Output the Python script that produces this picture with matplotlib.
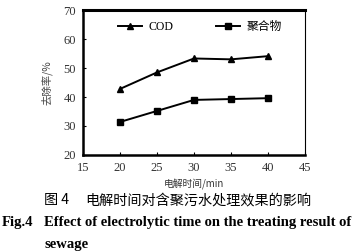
import matplotlib
matplotlib.use("Agg")
import matplotlib.pyplot as plt

# 电解时间 / min
time_min = [20, 25, 30, 35, 40]
cod_removal = [42.8, 48.5, 53.3, 53.0, 54.1]
polymer_removal = [31.4, 35.2, 39.0, 39.3, 39.6]

x_ticks = [15, 20, 25, 30, 35, 40, 45]
y_ticks = [20, 30, 40, 50, 60, 70]

serif = ['Liberation Serif', 'Noto Sans CJK SC']
cjk = ['Noto Sans CJK SC', 'DejaVu Sans']

fig = plt.figure(figsize=(3.55, 2.52), dpi=100)
ax = fig.add_axes([0.234, 0.385, 0.625, 0.575])

ax.plot(time_min, cod_removal, color='black', lw=1.4, marker='^', ms=5, label='COD')
ax.plot(time_min, polymer_removal, color='black', lw=1.4, marker='s', ms=5, label='聚合物')

ax.set_xlim(15, 45)
ax.set_ylim(20, 70)
ax.set_xticks(x_ticks)
ax.set_yticks(y_ticks)
ax.tick_params(direction='in', length=2, width=0.8, labelsize=9, pad=5)
for lab in ax.get_xticklabels() + ax.get_yticklabels():
    lab.set_family(serif)
    lab.set_color('#333333')
for side in ['left', 'bottom']:
    ax.spines[side].set_linewidth(1.8)
ax.spines['top'].set_linewidth(2.2)
ax.spines['right'].set_linewidth(0.8)

ax.set_ylabel('去除率/%', family=cjk, fontsize=7.5, color='#444444', labelpad=8)
ax.set_xlabel('电解时间/min', family=cjk, fontsize=7, color='#333333', labelpad=4)

leg = ax.legend(loc='upper left', ncol=2, frameon=False, bbox_to_anchor=(0.11, 1.0),
                handlelength=2.0, handletextpad=0.6, columnspacing=3.6,
                prop={'family': serif, 'size': 8.5})

fig.text(0.125, 0.205, '图 4', family=cjk, fontsize=10.2, va='center')
fig.text(0.24, 0.205, '电解时间对含聚污水处理效果的影响', family=cjk, fontsize=10.2, va='center')
fig.text(0.005, 0.118, 'Fig.4', family='Liberation Serif', fontsize=10.5, weight='bold', va='center')
fig.text(0.125, 0.118, 'Effect of electrolytic time on the treating result of',
         family='Liberation Serif', fontsize=10.5, weight='bold', va='center')
fig.text(0.125, 0.028, 'sewage', family='Liberation Serif', fontsize=10.5, weight='bold', va='center')

fig.savefig('out.png', dpi=100)
